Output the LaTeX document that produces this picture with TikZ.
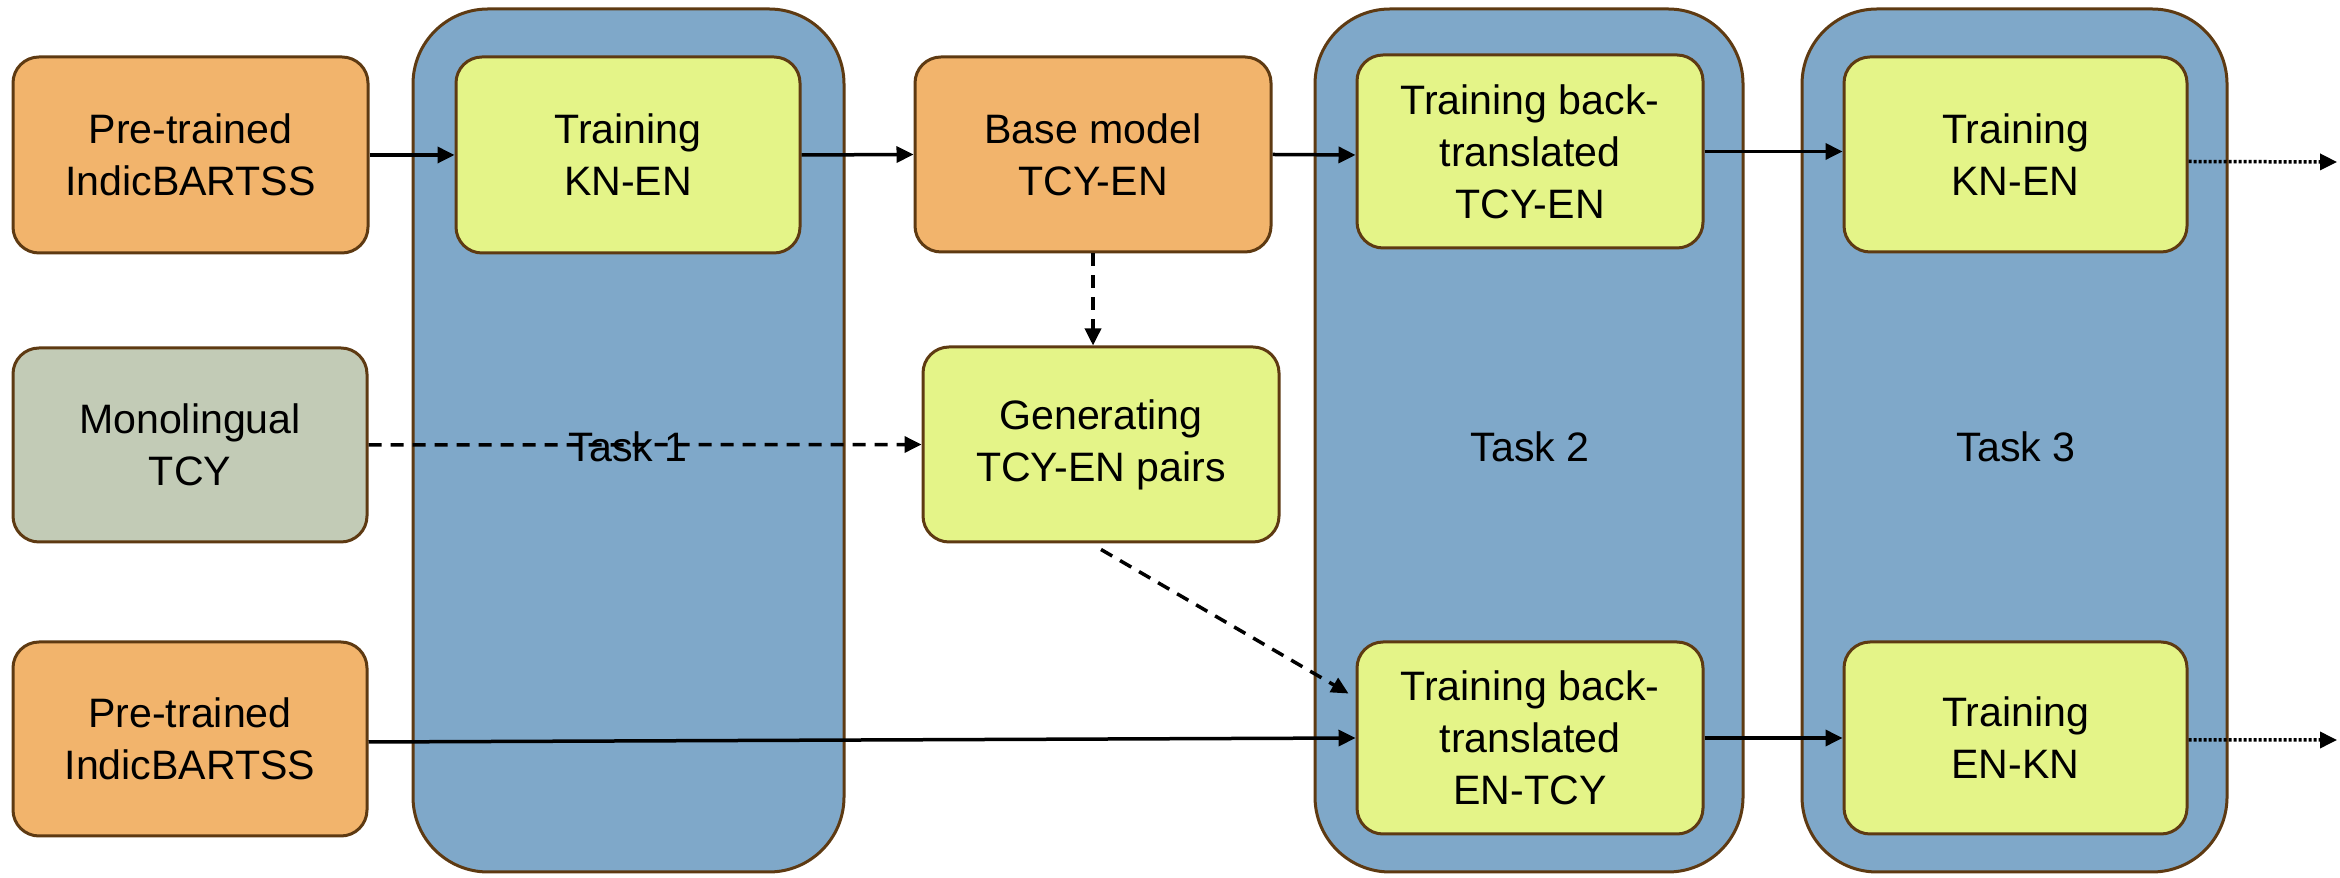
\documentclass[tikz,border=0pt]{standalone}
\usepackage{fontspec}
\setmainfont{Liberation Sans}
\usetikzlibrary{arrows.meta}
\definecolor{borderc}{HTML}{5E3A12}
\definecolor{orangec}{HTML}{F2B46C}
\definecolor{yellowc}{HTML}{E4F488}
\definecolor{bluec}{HTML}{7FA8C9}
\definecolor{grayc}{HTML}{C2CBB6}
\begin{document}
\begin{tikzpicture}[x=0.1mm,y=-0.1mm,
  box/.style={draw=borderc,line width=0.3mm,rounded corners=2.6mm,align=center,inner sep=0pt,
    font=\fontsize{11.7}{14.8}\selectfont},
  obox/.style={box,fill=orangec},
  ybox/.style={box,fill=yellowc},
  gbox/.style={box,fill=grayc},
  taskbox/.style={draw=borderc,line width=0.3mm,fill=bluec,rounded corners=7.5mm,inner sep=0pt},
  tasklabel/.style={font=\fontsize{11.7}{14.2}\selectfont,inner sep=0pt},
  arr/.style={-{Triangle[length=1.7mm,width=1.6mm]},line width=0.35mm},
  darr/.style={arr,dash pattern=on 1.3mm off 0.9mm},
  dotarr/.style={arr,dash pattern=on 0.3mm off 0.2mm}
]
\useasboundingbox (0,0) rectangle (2340,878);

% task containers
\node[taskbox,minimum width=43.1mm,minimum height=86.3mm] (task1) at (628.5,440.5) {};
\node[taskbox,minimum width=42.8mm,minimum height=86.3mm] (task2) at (1529,440.5) {};
\node[taskbox,minimum width=42.5mm,minimum height=86.3mm] (task3) at (2014.5,440.5) {};
\node[tasklabel] (t1lab) at (628,447) {Task 1};
\node[tasklabel] (t2lab) at (1530,447) {Task 2};
\node[tasklabel] (t3lab) at (2016,447) {Task 3};

% boxes
\node[obox,minimum width=35.5mm,minimum height=19.6mm] (pre1) at (190.5,155) {Pre-trained\\IndicBARTSS};
\node[gbox,minimum width=35.4mm,minimum height=19.4mm] (mono) at (190,445) {Monolingual\\TCY};
\node[obox,minimum width=35.4mm,minimum height=19.4mm] (pre2) at (190,739) {Pre-trained\\IndicBARTSS};
\node[ybox,minimum width=34.4mm,minimum height=19.6mm] (kn1) at (628,155) {Training\\KN-EN};
\node[obox,minimum width=35.6mm,minimum height=19.5mm] (base) at (1093,154.5) {Base model\\TCY-EN};
\node[ybox,minimum width=35.6mm,minimum height=19.5mm] (gen) at (1101,444.5) {Generating\\TCY-EN pairs};
\node[ybox,minimum width=34.6mm,minimum height=19.3mm] (bt1) at (1530,151.5) {Training back-\\translated\\TCY-EN};
\node[ybox,minimum width=34.6mm,minimum height=19.2mm] (bt2) at (1530,738) {Training back-\\translated\\EN-TCY};
\node[ybox,minimum width=34.3mm,minimum height=19.5mm] (kn3) at (2015.5,154.5) {Training\\KN-EN};
\node[ybox,minimum width=34.3mm,minimum height=19.2mm] (enkn) at (2015.5,738) {Training\\EN-KN};

\coordinate (out1) at (2337,162);
\coordinate (out2) at (2337,740);

% connectors
\draw[arr] (pre1.east) -- (kn1.west);
\draw[arr] (kn1.east) -- (base.west);
\draw[arr] (base.east) -- ([yshift=-0.35mm]bt1.west);
\draw[arr] (bt1.east) -- (bt1.east -| kn3.west);
\draw[darr] (base.south) -- (gen.north -| base.south);
\draw[darr] (mono.east) -- (gen.west);
\draw[darr] ([yshift=-0.6mm]gen.south) -- ([xshift=-0.7mm,yshift=-5.3mm]bt2.north west);
\draw[arr] ([yshift=-0.3mm]pre2.east) -- (bt2.west);
\draw[arr] (bt2.east) -- (enkn.west);
\draw[dotarr] ([yshift=-0.7mm]kn3.east) -- (out1);
\draw[dotarr] ([yshift=-0.2mm]enkn.east) -- (out2);
\end{tikzpicture}
\end{document}
